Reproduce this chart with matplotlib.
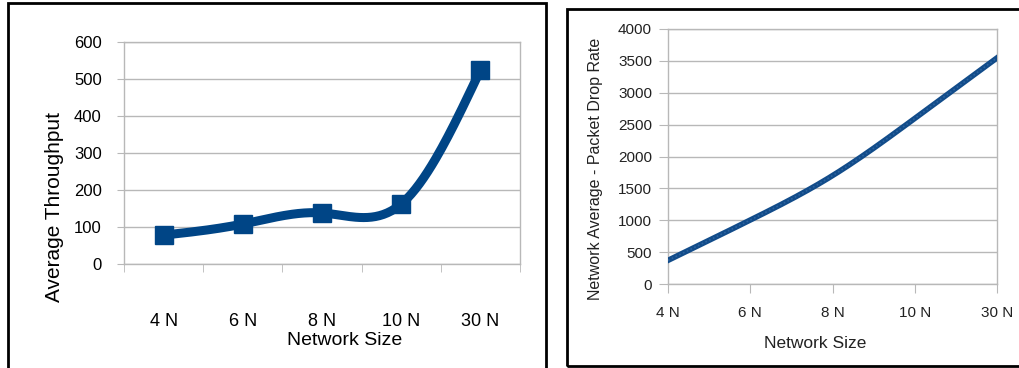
import numpy as np
import matplotlib
matplotlib.use('Agg')
import matplotlib.pyplot as plt
from matplotlib.patches import Rectangle

plt.rcParams['font.family'] = ['Liberation Sans', 'DejaVu Sans']

# network sizes shared by both charts
sizes = ['4 N', '6 N', '8 N', '10 N', '30 N']
throughput = [78, 108, 138, 162, 524]
drop_rate = [371, 1003, 1700, 2597, 3547]

BLUE = '#004586'
GRID = '#b8b8b8'


def natural_spline(y, n=40):
	# natural cubic spline through equally spaced points, used to smooth the line
	y = np.asarray(y, float)
	k = len(y)
	A = np.zeros((k, k))
	d = np.zeros(k)
	A[0, 0] = A[-1, -1] = 1
	for i in range(1, k - 1):
		A[i, i - 1:i + 2] = [1, 4, 1]
		d[i] = 6 * (y[i + 1] - 2 * y[i] + y[i - 1])
	M = np.linalg.solve(A, d)
	xs, ys = [], []
	for i in range(k - 1):
		t = np.linspace(0, 1, n, endpoint=(i == k - 2))
		s = ((1 - t) * y[i] + t * y[i + 1]
			+ ((1 - t) ** 3 - (1 - t)) * M[i] / 6 + (t ** 3 - t) * M[i + 1] / 6)
		xs.append(i + t)
		ys.append(s)
	return np.concatenate(xs), np.concatenate(ys)


def style_axes(ax):
	for side in ['left', 'right', 'top', 'bottom']:
		ax.spines[side].set_color(GRID)
		ax.spines[side].set_linewidth(1)
	ax.grid(axis='y', color=GRID, linewidth=1)
	ax.set_axisbelow(True)


W, H = 1019, 368
fig = plt.figure(figsize=(W / 100, H / 100), dpi=100)

# panel frames
fig.patches.append(Rectangle((8 / W, -0.1), 538 / W, 1.1 - 3 / H, transform=fig.transFigure,
	fill=False, edgecolor='black', linewidth=2))
fig.patches.append(Rectangle((567 / W, (H - 366) / H), 0.5, (366 - 9) / H, transform=fig.transFigure,
	fill=False, edgecolor='black', linewidth=2))

# left: average throughput
ax1 = fig.add_axes([124 / W, (H - 264) / H, 396 / W, 222 / H])
style_axes(ax1)
sx, sy = natural_spline(throughput)
ax1.plot(sx + 0.5, sy, color=BLUE, linewidth=6.5, solid_capstyle='round', zorder=3)
ax1.plot(np.arange(len(sizes)) + 0.5, throughput, 's', color=BLUE, markersize=13.5, zorder=4)
ax1.set_xlim(0, len(sizes))
ax1.set_ylim(0, 600)
ax1.set_yticks(range(0, 601, 100))
ax1.set_xticks(np.arange(len(sizes)) + 0.5)
ax1.set_xticklabels(sizes)
ax1.set_xticks(range(len(sizes) + 1), minor=True)
ax1.tick_params(axis='x', which='major', length=0, pad=35, labelsize=13)
ax1.tick_params(axis='x', which='minor', length=6, color=GRID)
ax1.tick_params(axis='y', length=5, color=GRID, labelsize=12, pad=11)
ax1.set_xlabel('Network Size', fontsize=14)
ax1.xaxis.set_label_coords((345 - 124) / 396, (264 - 332) / 222)
ax1.set_ylabel('Average Throughput', fontsize=15)
ax1.yaxis.set_label_coords((64 - 124) / 396, (264 - 207) / 222)

# right: packet drop rate
ax2 = fig.add_axes([668 / W, (H - 284) / H, 329 / W, 255 / H])
style_axes(ax2)
dx, dy = natural_spline(drop_rate)
ax2.plot(dx, dy, color='#124c8a', linewidth=4, zorder=3)
ax2.plot(dx, dy, color='#2c63a0', linewidth=1.2, linestyle=(0, (1, 1.5)), zorder=4)
ax2.set_xlim(0, len(sizes) - 1)
ax2.set_ylim(0, 4000)
ax2.set_yticks(range(0, 4001, 500))
ax2.set_xticks(range(len(sizes)))
ax2.set_xticklabels(sizes)
ax2.tick_params(axis='both', length=6.5, color=GRID, labelsize=11, labelcolor='#222222')
ax2.tick_params(axis='x', pad=9)
ax2.tick_params(axis='y', pad=5)
ax2.set_xlabel('Network Size', fontsize=12.5, color='#222222')
ax2.xaxis.set_label_coords((815 - 668) / 329, (284 - 336) / 255)
ax2.set_ylabel('Network Average - Packet Drop Rate', fontsize=11.5, color='#222222')
ax2.yaxis.set_label_coords((603 - 668) / 329, (284 - 169) / 255)

fig.savefig('out.png', dpi=100)
